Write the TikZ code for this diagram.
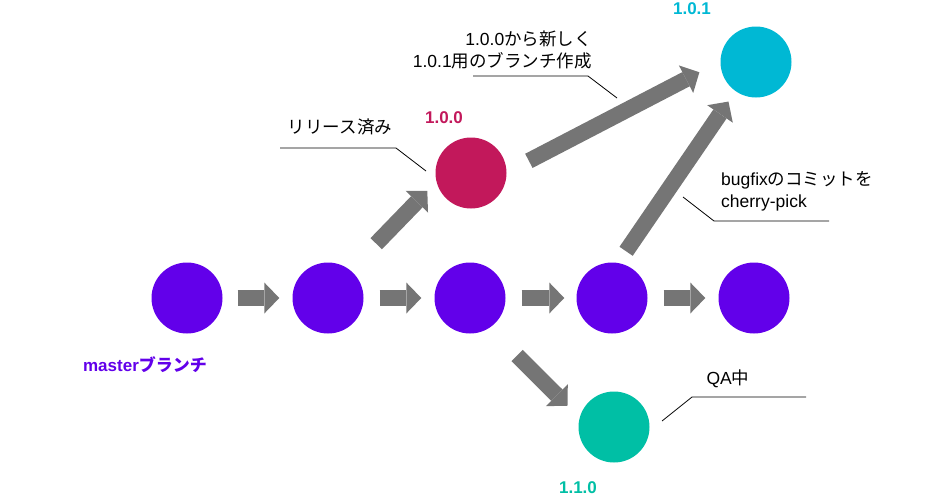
\documentclass[tikz,border=0pt]{standalone}
\usepackage{fontspec}
\setmainfont{Liberation Sans}
\newfontfamily\jp{Noto Sans CJK JP}
\usepackage{tikz}
\usetikzlibrary{arrows.meta}
\definecolor{IPurple}{HTML}{6200EA}
\definecolor{ICrimson}{HTML}{C2185B}
\definecolor{ICyan}{HTML}{00B8D4}
\definecolor{ITeal}{HTML}{00BFA5}
\definecolor{IGray}{HTML}{757575}

\begin{document}
\begin{tikzpicture}[x=1pt, y=-1pt,
  every node/.style={font=\fontsize{17.5}{22}\selectfont},
  commit/.style={circle, minimum size=71pt, inner sep=0pt},
  blk/.style={draw=IGray, line width=16pt,
              -{Triangle[width=31pt, length=15pt, line width=0pt]}},
  lead/.style={draw=black, line width=0.8pt},
  note/.style={inner sep=0pt},
  tag/.style={inner sep=0pt, font=\fontsize{17}{20}\selectfont\bfseries}]
\useasboundingbox (0,0) rectangle (945,496);

% commits
\node[commit, fill=IPurple] (m1) at (187,298) {};
\node[commit, fill=IPurple] (m2) at (328,298) {};
\node[commit, fill=IPurple] (m3) at (470,298) {};
\node[commit, fill=IPurple] (m4) at (612,298) {};
\node[commit, fill=IPurple] (m5) at (754,298) {};
\node[commit, fill=ICrimson] (r100) at (471,173) {};
\node[commit, fill=ICyan] (r101) at (756,62) {};
\node[commit, fill=ITeal] (r110) at (614,427) {};

% version labels
\node[tag, text=IPurple] (master) at (145,365) {master{\jp ブランチ}};
\node[tag, text=ICrimson] (t100) at (444,118) {1.0.0};
\node[tag, text=ICyan] (t101) at (692,9) {1.0.1};
\node[tag, text=ITeal] (t110) at (578,488) {1.1.0};

% arrows
\draw[blk, shorten <=15pt, shorten >=13pt] (m1) -- (m2);
\draw[blk, shorten <=16pt, shorten >=13pt] (m2) -- (m3);
\draw[blk, shorten <=16pt, shorten >=12pt] (m3) -- (m4);
\draw[blk, shorten <=16pt, shorten >=13pt] (m4) -- (m5);
\draw[blk, shorten <=37pt, shorten >=13pt] (m2.51) -- (r100.194);
\draw[blk, shorten <=25pt, shorten >=23.6pt] (r100.1) -- (r101.179);
\draw[blk, shorten <=14pt, shorten >=12.5pt] (m4.80) -- (r101.235);
\draw[blk, shorten <=39pt, shorten >=17pt] (m3.303) -- (r110.165);

% notes
\node[note] (relnote) at (340,127) {\jp リリース済み};
\node[note, align=right, anchor=east] (brnote) at (592,50)
  {1.0.0{\jp から新しく}\\1.0.1{\jp 用のブランチ作成}};
\node[note, align=left, anchor=west] (cpnote) at (721,191)
  {bugfix{\jp のコミットを}\\cherry-pick};
\node[note] (qanote) at (728,379) {QA{\jp 中}};

\coordinate (rel1) at (280,148);
\coordinate (rel2) at (396,148);
\coordinate (rel3) at (426,171);
\coordinate (br1) at (473,76);
\coordinate (br2) at (588,76);
\coordinate (br3) at (617,98);
\coordinate (cp1) at (683,197);
\coordinate (cp2) at (714,221);
\coordinate (cp3) at (829,221);
\coordinate (qa1) at (662,421);
\coordinate (qa2) at (692,397);
\coordinate (qa3) at (806,397);
\draw[lead] (rel1) -- (rel2) -- (rel3);
\draw[lead] (br1) -- (br2) -- (br3);
\draw[lead] (cp1) -- (cp2) -- (cp3);
\draw[lead] (qa1) -- (qa2) -- (qa3);
\end{tikzpicture}
\end{document}
